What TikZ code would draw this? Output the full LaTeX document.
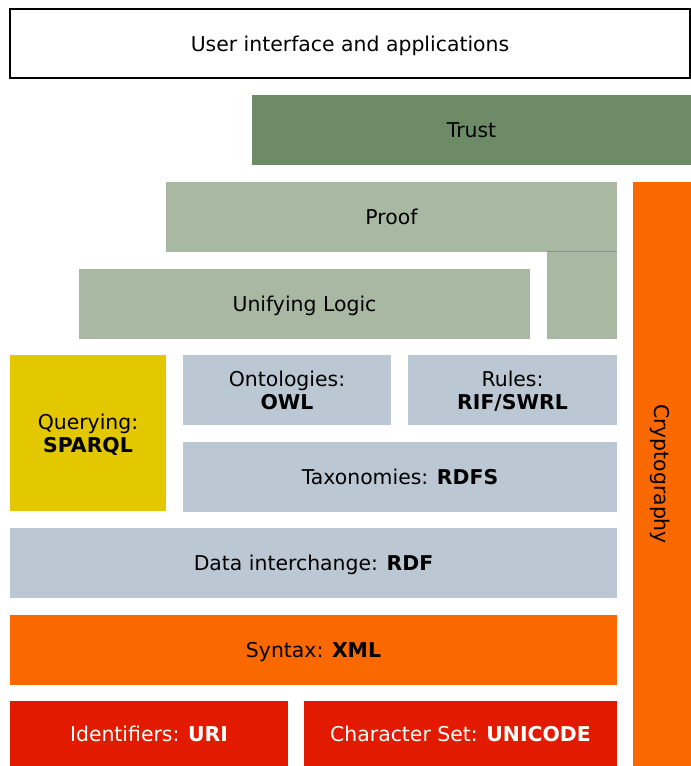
\documentclass[tikz,border=0pt]{standalone}
\usepackage{fontspec}
\setmainfont{DejaVu Sans}

\definecolor{trustgreen}{HTML}{6E8B68}
\definecolor{logicgreen}{HTML}{A9B8A3}
\definecolor{rdfblue}{HTML}{BBC8D3}
\definecolor{queryyellow}{HTML}{E3C800}
\definecolor{xmlorange}{HTML}{F96900}
\definecolor{urired}{HTML}{E21A00}

% one pixel of the layout grid
\newdimen\pxu
\pxu=0.75pt

\tikzset{
  layer/.style={rectangle, inner sep=0pt, align=center, text depth=0pt, font=\fontsize{15.3}{17.6}\selectfont},
}

\begin{document}
\begin{tikzpicture}[x=0.75pt,y=-0.75pt]
\useasboundingbox (0,0) rectangle (691,766);

% top of the stack
\node[layer,draw=black,line width=0.9pt,fill=white,minimum width=680\pxu,minimum height=69\pxu] (ui) at (350,43.5) {User interface and applications};
\node[layer,fill=trustgreen,minimum width=439\pxu,minimum height=70\pxu] (trust) at (471.5,130) {Trust};

% proof with its side leg
\node[layer,fill=logicgreen,minimum width=451\pxu,minimum height=70\pxu] (proof) at (391.5,217) {Proof};
\node[layer,fill=logicgreen,minimum width=70\pxu,minimum height=87\pxu] (proofleg) at (582,295.2) {};
\draw[logicgreen!80!black,line width=0.6pt] (proofleg.north west) -- (proofleg.north east);
\node[layer,fill=logicgreen,minimum width=451\pxu,minimum height=70\pxu] (logic) at (304.5,304) {Unifying Logic};

% query, ontologies, rules
\node[layer,fill=queryyellow,minimum width=156\pxu,minimum height=156\pxu] (query) at (88,433) {Querying:\\\textbf{SPARQL}};
\node[layer,fill=rdfblue,minimum width=208\pxu,minimum height=70\pxu] (owl) at (287,390) {Ontologies:\\\textbf{OWL}};
\node[layer,fill=rdfblue,minimum width=209\pxu,minimum height=70\pxu] (rules) at (512.5,390) {Rules:\\\textbf{RIF/SWRL}};
\node[layer,fill=rdfblue,minimum width=434\pxu,minimum height=70\pxu] (rdfs) at (400,477) {Taxonomies: \textbf{RDFS}};

% data and syntax
\node[layer,fill=rdfblue,minimum width=607\pxu,minimum height=70\pxu] (rdf) at (313.5,563) {Data interchange: \textbf{RDF}};
\node[layer,fill=xmlorange,minimum width=607\pxu,minimum height=70\pxu] (xml) at (313.5,650) {Syntax: \textbf{XML}};

% bottom row
\node[layer,fill=urired,text=white,minimum width=278\pxu,minimum height=65\pxu] (uri) at (149,733.5) {Identifiers: \textbf{URI}};
\node[layer,fill=urired,text=white,minimum width=313\pxu,minimum height=65\pxu] (unicode) at (460.5,733.5) {Character Set: \textbf{UNICODE}};

% crypto column on the right
\node[layer,fill=xmlorange,minimum width=58\pxu,minimum height=584\pxu] (crypto) at (662,474) {};
\node[layer,rotate=-90] (cryptolabel) at (crypto.center) {Cryptography};
\end{tikzpicture}
\end{document}
